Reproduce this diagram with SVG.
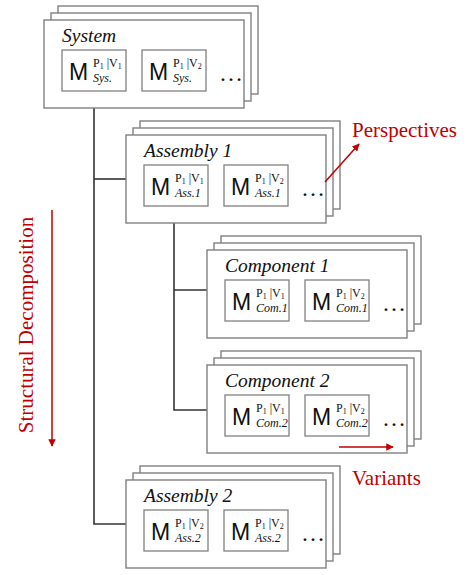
<svg xmlns="http://www.w3.org/2000/svg" width="474" height="575" viewBox="0 0 474 575">
<style>
.card{fill:#fff;stroke:#808080;stroke-width:1.4}
.inner{fill:#fff;stroke:#808080;stroke-width:1.3}
.title{font-family:"Liberation Serif",serif;font-style:italic;font-size:19.5px;fill:#111}
.m{font-family:"Liberation Sans",sans-serif;font-size:23px;fill:#111}
.sup{font-family:"Liberation Serif",serif;font-size:12px;fill:#111}
.sub{font-family:"Liberation Serif",serif;font-style:italic;font-size:12px;fill:#111}
.dots{font-family:"Liberation Serif",serif;font-size:24px;fill:#111}
.conn{fill:none;stroke:#333;stroke-width:1.6}
.red{stroke:#c00000;stroke-width:1.5;fill:none}
.redtxt{font-family:"Liberation Serif",serif;font-size:21px;fill:#c00000}
</style>
<defs>
<marker id="ah" viewBox="0 0 10 10" refX="9" refY="5" markerWidth="5" markerHeight="5" orient="auto">
<path d="M0,0 L10,5 L0,10 z" fill="#c00000"/>
</marker>
<g id="stack">
<rect class="card" x="14" y="-14" width="200" height="88"/>
<rect class="card" x="7" y="-7" width="200" height="88"/>
<rect class="card" x="0" y="0" width="200" height="88"/>
<rect class="inner" x="18" y="30" width="64" height="41"/>
<rect class="inner" x="98" y="30" width="64" height="41"/>
<text class="m" x="25" y="60">M</text>
<text class="m" x="105" y="60">M</text>
<text class="dots" x="175" y="61">…</text>
</g>
</defs>

<g id="connectors">
<path class="conn" d="M94,108 V524 H126"/>
<path class="conn" d="M94,179 H126"/>
<path class="conn" d="M174,222 V410 H207"/>
<path class="conn" d="M174,290 H207"/>
</g>

<g id="system" transform="translate(44,20)">
<use href="#stack"/>
<text class="title" x="18" y="22">System</text>
<text class="sup" x="49" y="47">P<tspan font-size="8" dy="2">1</tspan><tspan dy="-2"> |V</tspan><tspan font-size="8" dy="2">1</tspan></text>
<text class="sub" x="49" y="62">Sys.</text>
<text class="sup" x="129" y="47">P<tspan font-size="8" dy="2">1</tspan><tspan dy="-2"> |V</tspan><tspan font-size="8" dy="2">2</tspan></text>
<text class="sub" x="129" y="62">Sys.</text>
</g>

<g id="assembly1" transform="translate(126,135)">
<use href="#stack"/>
<text class="title" x="18" y="22">Assembly 1</text>
<text class="sup" x="49" y="47">P<tspan font-size="8" dy="2">1</tspan><tspan dy="-2"> |V</tspan><tspan font-size="8" dy="2">1</tspan></text>
<text class="sub" x="49" y="62">Ass.1</text>
<text class="sup" x="129" y="47">P<tspan font-size="8" dy="2">1</tspan><tspan dy="-2"> |V</tspan><tspan font-size="8" dy="2">2</tspan></text>
<text class="sub" x="129" y="62">Ass.1</text>
</g>

<g id="component1" transform="translate(207,250)">
<use href="#stack"/>
<text class="title" x="18" y="22">Component 1</text>
<text class="sup" x="49" y="47">P<tspan font-size="8" dy="2">1</tspan><tspan dy="-2"> |V</tspan><tspan font-size="8" dy="2">1</tspan></text>
<text class="sub" x="49" y="62">Com.1</text>
<text class="sup" x="129" y="47">P<tspan font-size="8" dy="2">1</tspan><tspan dy="-2"> |V</tspan><tspan font-size="8" dy="2">2</tspan></text>
<text class="sub" x="129" y="62">Com.1</text>
</g>

<g id="component2" transform="translate(207,365)">
<use href="#stack"/>
<text class="title" x="18" y="22">Component 2</text>
<text class="sup" x="49" y="47">P<tspan font-size="8" dy="2">1</tspan><tspan dy="-2"> |V</tspan><tspan font-size="8" dy="2">1</tspan></text>
<text class="sub" x="49" y="62">Com.2</text>
<text class="sup" x="129" y="47">P<tspan font-size="8" dy="2">1</tspan><tspan dy="-2"> |V</tspan><tspan font-size="8" dy="2">2</tspan></text>
<text class="sub" x="129" y="62">Com.2</text>
</g>

<g id="assembly2" transform="translate(126,480)">
<use href="#stack"/>
<text class="title" x="18" y="22">Assembly 2</text>
<text class="sup" x="49" y="47">P<tspan font-size="8" dy="2">1</tspan><tspan dy="-2"> |V</tspan><tspan font-size="8" dy="2">2</tspan></text>
<text class="sub" x="49" y="62">Ass.2</text>
<text class="sup" x="129" y="47">P<tspan font-size="8" dy="2">1</tspan><tspan dy="-2"> |V</tspan><tspan font-size="8" dy="2">2</tspan></text>
<text class="sub" x="129" y="62">Ass.2</text>
</g>

<g id="annotations">
<line class="red" x1="52" y1="210" x2="52" y2="446" marker-end="url(#ah)"/>
<text class="redtxt" transform="translate(33,325) rotate(-90)" text-anchor="middle">Structural Decomposition</text>
<line class="red" x1="325" y1="182" x2="359" y2="144" marker-end="url(#ah)"/>
<text class="redtxt" x="352" y="137">Perspectives</text>
<line class="red" x1="339" y1="447" x2="393" y2="447" marker-end="url(#ah)"/>
<text class="redtxt" x="352" y="485">Variants</text>
</g>
</svg>
